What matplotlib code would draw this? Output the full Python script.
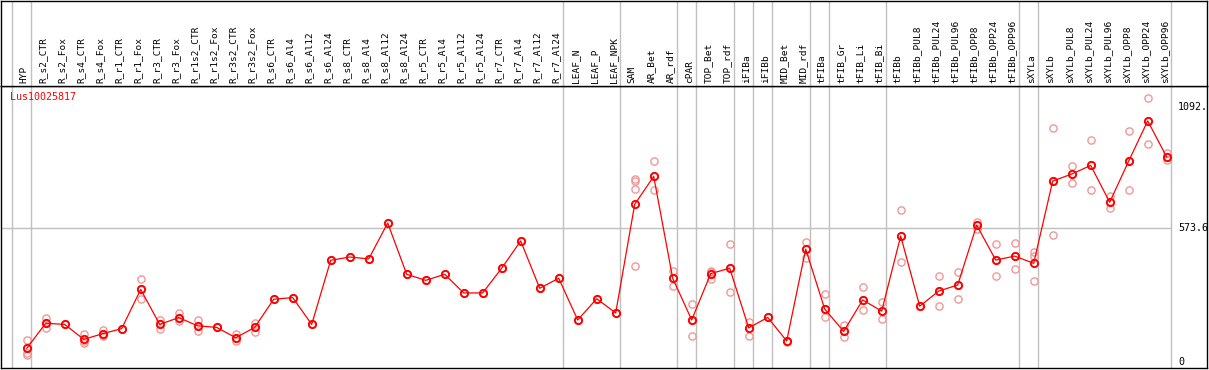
import matplotlib
matplotlib.use('Agg')
import matplotlib.pyplot as plt

labels = ['HYP', 'R_s2_CTR', 'R_s2_Fox', 'R_s4_CTR', 'R_s4_Fox', 'R_r1_CTR',
          'R_r1_Fox', 'R_r3_CTR', 'R_r3_Fox', 'R_r1s2_CTR', 'R_r1s2_Fox',
          'R_r3s2_CTR', 'R_r3s2_Fox', 'R_s6_CTR', 'R_s6_Al4', 'R_s6_Al12',
          'R_s6_Al24', 'R_s8_CTR', 'R_s8_Al4', 'R_s8_Al12', 'R_s8_Al24',
          'R_r5_CTR', 'R_r5_Al4', 'R_r5_Al12', 'R_r5_Al24', 'R_r7_CTR',
          'R_r7_Al4', 'R_r7_Al12', 'R_r7_Al24', 'LEAF_N', 'LEAF_P', 'LEAF_NPK',
          'SAM', 'AR_Bet', 'AR_rdf', 'cPAR', 'TOP_Bet', 'TOP_rdf', 'iFIBa',
          'iFIBb', 'MID_Bet', 'MID_rdf', 'tFIBa', 'tFIB_Gr', 'tFIB_Li',
          'tFIB_Bi', 'tFIBb', 'tFIBb_PUL8', 'tFIBb_PUL24', 'tFIBb_PUL96',
          'tFIBb_OPP8', 'tFIBb_OPP24', 'tFIBb_OPP96', 'sXYLa', 'sXYLb',
          'sXYLb_PUL8', 'sXYLb_PUL24', 'sXYLb_PUL96', 'sXYLb_OPP8',
          'sXYLb_OPP24', 'sXYLb_OPP96']

means = [57, 165, 160, 96, 120, 142, 310, 160, 189, 154,
         147, 103, 147, 268, 275, 160, 435, 449, 441, 595,
         375, 349, 375, 295, 295, 401, 518, 315, 358, 179,
         270, 209, 675, 795, 358, 179, 378, 401, 145, 190,
         89, 483, 226, 130, 265, 217, 539, 238, 303, 329,
         586, 436, 453, 422, 775, 805, 842, 684, 861, 1033,
         878]

reps = [[93, 38, 30], [187, 143, 165], [160], [117, 90, 82], [135, 120, 112],
        [142], [353, 269, 310], [180, 142, 160], [208, 175, 189], [180, 130, 154],
        [147], [120, 90, 103], [165, 127, 147], [268], [275],
        [160], [435], [449], [441], [595],
        [375], [349], [375], [295], [295],
        [401], [518], [315], [358], [179],
        [270], [209], [782, 775, 742, 409], [861, 735, 795], [389, 326, 358],
        [246, 109, 179], [389, 384, 355], [504, 298, 401], [169, 112, 145], [190],
        [89, 86], [512, 446, 483], [289, 193, 226], [156, 106, 130], [319, 222, 265],
        [255, 182, 217], [650, 426, 539], [238], [366, 238, 303], [386, 268, 329],
        [601, 568, 586], [504, 366, 436], [508, 396, 453], [472, 452, 345], [1001, 542, 775],
        [838, 765, 805], [950, 737, 842], [711, 661, 684], [988, 735, 861], [1130, 933, 1033],
        [894, 865, 878]]

# group separators drawn after these category indices
group_ends = [-1, 0, 28, 31, 34, 35, 37, 38, 39, 41, 42, 45, 52, 53, 60]

gene = 'Lus10025817'
y_marks = [0, 573.6, 1092]
y_mark_text = ['0', '573.6', '1092.']

W, H = 1209, 370
fig = plt.figure(figsize=(W / 100, H / 100), dpi=100)
mono = 'DejaVu Sans Mono'

xmin, xmax = (1 - 26.7) / 19, (1207 - 26.7) / 19
ymin, ymax = (361.7 - 368) / 0.2331, (361.7 - 86) / 0.2331

# main plot area
ax = fig.add_axes([1 / W, (H - 368) / H, 1206 / W, 282 / H])
ax.set_xlim(xmin, xmax)
ax.set_ylim(ymin, ymax)
ax.set_xticks([])
ax.set_yticks([])

# label strip on top
axl = fig.add_axes([1 / W, (H - 86) / H, 1206 / W, 85.5 / H])
axl.set_xlim(xmin, xmax)
axl.set_ylim(86, 0)
axl.set_xticks([])
axl.set_yticks([])

for a in (ax, axl):
    for s in a.spines.values():
        s.set_color('black')
        s.set_linewidth(1.0)
    for g in group_ends:
        a.axvline(g + 0.2, color='#c0c0c0', lw=1.0, zorder=1)

ax.plot([xmin, 60.2], [573.6, 573.6], color='#c0c0c0', lw=1.0, zorder=1)

x = list(range(len(labels)))
for i, r in enumerate(reps):
    ax.plot([i] * len(r), r, 'o', ms=5.2, mfc='none', mec='#f09898',
            mew=1.0, zorder=2)
ax.plot(x, means, '-', color='red', lw=0.9, zorder=3)
ax.plot(x, means, 'o', ms=5.2, mfc='none', mec='red', mew=1.4, zorder=4)

for i, lab in enumerate(labels):
    axl.text(i - 0.13, 83, lab, rotation=90, ha='center', va='bottom',
             fontsize=6.8, family=mono, color='black')

ax.text(-0.88, 1137, gene, ha='left', va='center', fontsize=7.2,
        family=mono, color='red')

for v, t in zip(y_marks, y_mark_text):
    ax.text(60.6, v, t, ha='left', va='center', fontsize=7.2, family=mono,
            color='black')

fig.savefig('out.png', dpi=100)
